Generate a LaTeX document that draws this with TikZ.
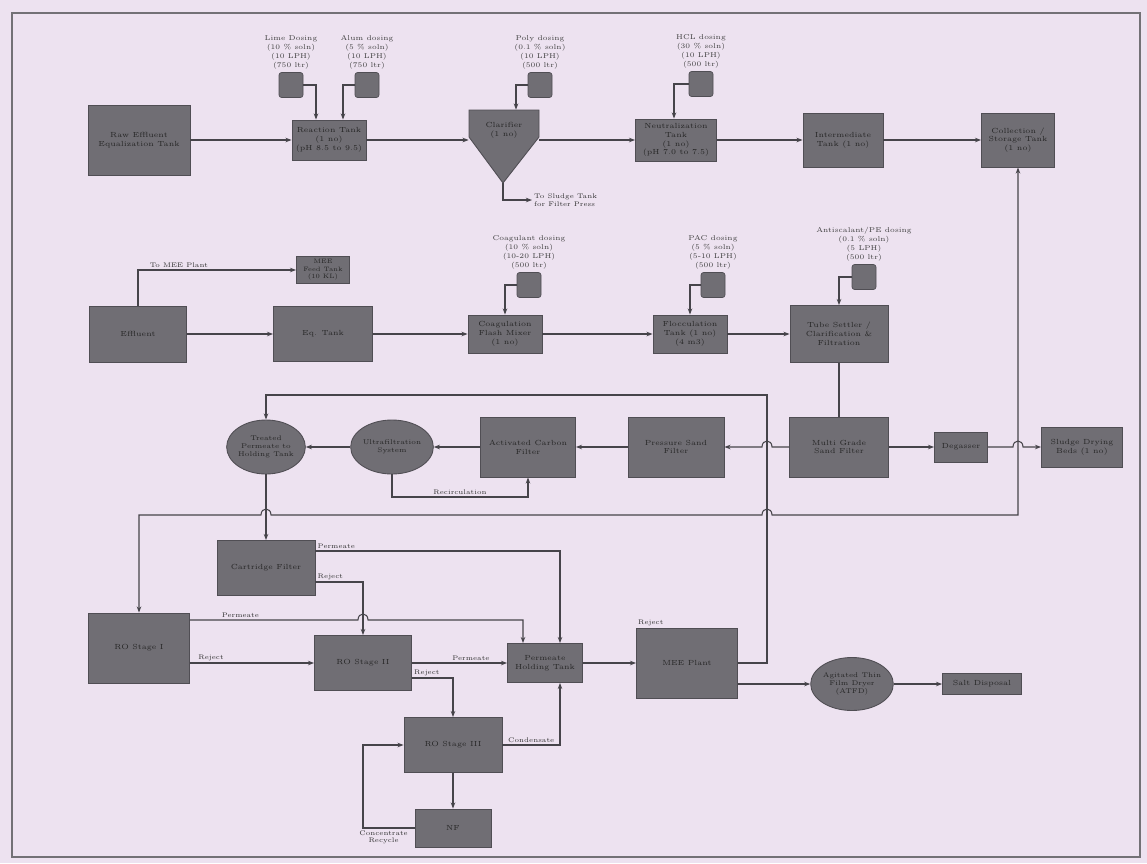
\documentclass[tikz,border=0pt]{standalone}
\usepackage{tikz}
\usetikzlibrary{shapes.geometric, arrows.meta, positioning, calc}

\definecolor{paper}{RGB}{237,226,240}
\definecolor{unitgray}{RGB}{112,110,116}
\definecolor{edgegray}{RGB}{80,78,84}
\definecolor{pipegray}{RGB}{70,68,74}

\begin{document}
\begin{tikzpicture}[
    x=0.02cm, y=-0.02cm,
    wh/.style 2 args={minimum width=#1*0.02cm, minimum height=#2*0.02cm},
    unitfont/.style={font=\fontsize{4.2}{5}\selectfont, text=black!85},
    unit/.style={draw=edgegray, fill=unitgray, line width=0.5pt, align=center, inner sep=1pt, unitfont},
    tank/.style={unit, ellipse, inner sep=0pt, font=\fontsize{3.9}{4.7}\selectfont},
    hopper/.style={draw=edgegray, fill=unitgray, line width=0.5pt},
    drum/.style={draw=edgegray, fill=unitgray, rounded corners=1.5pt, wh={24}{25}, inner sep=0pt},
    dosetext/.style={align=center, font=\fontsize{4}{5.2}\selectfont, text=black!75, inner sep=0.5pt},
    flowtext/.style={font=\fontsize{3.8}{4.4}\selectfont, text=black!80, inner sep=1pt},
    pipe/.style={draw=pipegray, line width=0.6pt},
    arrow/.style={pipe, -{Stealth[length=3.5pt, width=2.6pt]}},
    twoway/.style={pipe, {Stealth[length=3.5pt, width=2.6pt]}-{Stealth[length=3.5pt, width=2.6pt]}}
]

\fill[paper] (0,0) rectangle (1147,863);
\useasboundingbox (0,0) rectangle (1147,863);
\draw[edgegray!80, line width=0.6pt] (12,13) rectangle (1140,857);

% primary treatment line
\node[unit, wh={102}{70}] (eqt) at (139,140) {Raw Effluent\\Equalization Tank};
\node[unit, wh={74}{40}] (rxn) at (329,140) {Reaction Tank\\(1 no)\\(pH 8.5 to 9.5)};
\node[drum] (lime) at (291,85) {};
\node[drum] (alum) at (367,85) {};
\node[dosetext, above=1pt of lime] {Lime Dosing\\(10 \% soln)\\(10 LPH)\\(750 ltr)};
\node[dosetext, above=1pt of alum] {Alum dosing\\(5 \% soln)\\(10 LPH)\\(750 ltr)};

\filldraw[hopper] (469,110) -- (539,110) -- (539,137) -- (503,183) -- (469,137) -- cycle;
\node[inner sep=0pt, wh={70}{40}, align=center, unitfont] (clar) at (504,130) {Clarifier\\(1 no)};
\coordinate (clarapex) at (503,183);
\coordinate (sludge) at (532,200);
\node[drum] (poly) at (540,85) {};
\node[dosetext, above=1pt of poly] {Poly dosing\\(0.1 \% soln)\\(10 LPH)\\(500 ltr)};

\node[unit, wh={81}{42}] (neut) at (676,140) {Neutralization\\Tank\\(1 no)\\(pH 7.0 to 7.5)};
\node[drum] (hcl) at (701,84) {};
\node[dosetext, above=1pt of hcl] {HCL dosing\\(30 \% soln)\\(10 LPH)\\(500 ltr)};
\node[unit, wh={80}{54}] (inter) at (843,140) {Intermediate\\Tank (1 no)};
\node[unit, wh={73}{54}] (coll) at (1018,140) {Collection /\\Storage Tank\\(1 no)};

\draw[arrow] (eqt) -- (rxn);
\draw[arrow] (rxn) -- (rxn -| clar.west);
\draw[arrow] (clar.east |- neut) -- (neut);
\draw[arrow] (neut) -- (inter);
\draw[arrow] (inter) -- (coll);
\draw[arrow] (lime.east) -| ($(rxn.north)+(-13,0)$);
\draw[arrow] (alum.west) -| ($(rxn.north)+(14,0)$);
\draw[arrow] (poly.west) -| ($(clar.north)+(12,0)$);
\draw[arrow] (hcl.west) -| ($(neut.north)+(-2,0)$);
\draw[arrow] (clarapex) |- (sludge);
\node[flowtext, right, align=left] at (sludge) {To Sludge Tank\\for Filter Press};

% tertiary line
\node[unit, wh={97}{56}] (raw) at (138,334) {Effluent};
\node[unit, wh={53}{27}, font=\fontsize{3.6}{4.2}\selectfont] (meefeed) at (323,270) {MEE\\Feed Tank\\(10 KL)};
\node[unit, wh={99}{55}] (eqtwo) at (323,334) {Eq. Tank};
\node[unit, wh={74}{38}] (coag) at (505,334) {Coagulation\\Flash Mixer\\(1 no)};
\node[drum] (coagdrum) at (529,285) {};
\node[dosetext, above=1pt of coagdrum] {Coagulant dosing\\(10 \% soln)\\(10-20 LPH)\\(500 ltr)};
\node[unit, wh={74}{38}] (floc) at (690,334) {Flocculation\\Tank (1 no)\\(4 m3)};
\node[drum] (pacdrum) at (713,285) {};
\node[dosetext, above=1pt of pacdrum] {PAC dosing\\(5 \% soln)\\(5-10 LPH)\\(500 ltr)};
\node[unit, wh={98}{57}] (tube) at (839,334) {Tube Settler /\\Clarification \&\\Filtration};
\node[drum] (antidrum) at (864,277) {};
\node[dosetext, above=1pt of antidrum] {Antiscalant/PE dosing\\(0.1 \% soln)\\(5 LPH)\\(500 ltr)};

\draw[arrow] (raw.north) |- node[flowtext, pos=0.53, anchor=south west] {To MEE Plant} (meefeed.west);
\draw[arrow] (raw) -- (eqtwo);
\draw[arrow] (eqtwo) -- (coag);
\draw[arrow] (coag) -- (floc);
\draw[arrow] (floc) -- (tube);
\draw[arrow] (coagdrum.west) -| (coag.north);
\draw[arrow] (pacdrum.west) -| (floc.north);
\draw[arrow] (antidrum.west) -| (tube.north);

% filtration line
\node[unit, wh={99}{60}] (mgf) at (839,447) {Multi Grade\\Sand Filter};
\node[unit, wh={96}{60}] (psf) at (676,447) {Pressure Sand\\Filter};
\node[unit, wh={95}{60}] (acf) at (528,447) {Activated Carbon\\Filter};
\node[tank, wh={75}{54}] (uf) at (392,447) {Ultrafiltration\\System};
\node[tank, wh={78}{54}] (hold) at (266,447) {Treated\\Permeate to\\Holding Tank};
\node[unit, wh={53}{30}] (degas) at (961,447) {Degasser};
\node[unit, wh={81}{40}] (sdb) at (1082,447) {Sludge Drying\\Beds (1 no)};
\coordinate (recy) at (528,497);

\draw[pipe] (tube) -- (mgf);
\draw[arrow] (mgf.west) -- (772,447) .. controls (772,439) and (762,439) .. (762,447) -- (psf.east);
\draw[arrow] (psf) -- (acf);
\draw[arrow] (acf) -- (uf);
\draw[arrow] (uf) -- (hold);
\draw[arrow] (uf.south) |- node[flowtext, pos=0.75, above] {Recirculation} (recy) -- (acf.south);
\draw[arrow] (mgf) -- (degas);
\draw[arrow] (degas.east) -- (1013,447) .. controls (1013,439) and (1023,439) .. (1023,447) -- (sdb.west);

% membrane and evaporation line
\node[unit, wh={98}{55}] (cf) at (266,568) {Cartridge Filter};
\node[unit, wh={101}{70}] (ro1) at (139,648) {RO Stage I};
\node[unit, wh={97}{55}] (ro2) at (363,663) {RO Stage II};
\node[unit, wh={75}{39}] (permtank) at (545,663) {Permeate\\Holding Tank};
\node[unit, wh={101}{70}] (mee) at (687,663) {MEE Plant};
\node[flowtext, anchor=south west] at (mee.north west) {Reject};
\node[tank, wh={79}{53}] (atfd) at (852,684) {Agitated Thin\\Film Dryer\\(ATFD)};
\node[unit, wh={79}{21}] (saltout) at (982,684) {Salt Disposal};
\node[unit, wh={98}{55}] (ro3) at (453,745) {RO Stage III};
\node[unit, wh={76}{38}] (nf) at (453,828) {NF};
\coordinate (cnd) at (767,395);
\coordinate (ringL) at (139,515);
\coordinate (recyc) at (363,828);

\draw[twoway] (coll.south) -- (1018,515) -- (772,515) .. controls (772,507) and (762,507) .. (762,515)
    -- (271,515) .. controls (271,507) and (261,507) .. (261,515) -- (ringL) -- (ro1.north);
\draw[arrow] (mee.east) -| (cnd) -| (hold.north);
\draw[arrow] (hold.south) -- (cf.north);
\draw[arrow] ($(cf.east)+(0,-17)$) node[flowtext, above right] {Permeate} -| ($(permtank.north)+(15,0)$);
\draw[arrow] ($(cf.east)+(0,14)$) node[flowtext, above right] {Reject} -| (ro2.north);
\draw[arrow] ($(ro1.east)+(0,-28)$) -- node[flowtext, above, pos=0.3] {Permeate} (358,620)
    .. controls (358,612) and (368,612) .. (368,620) -| ($(permtank.north)+(-22,0)$);
\draw[arrow] (ro1.east |- ro2.west) -- node[flowtext, above, pos=0.17] {Reject} (ro2.west);
\draw[arrow] (ro2) -- node[flowtext, above, pos=0.62] {Permeate} (permtank);
\draw[arrow] ($(ro2.east)+(0,15)$) node[flowtext, above right] {Reject} -| (ro3.north);
\draw[arrow] (permtank) -- (mee);
\draw[arrow] (mee.east |- atfd.west) -- (atfd.west);
\draw[arrow] (atfd) -- (saltout);
\draw[arrow] (ro3) -- (nf);
\draw[arrow] (nf.west) -- node[flowtext, below, align=center, pos=0.6] {Concentrate\\Recycle} (recyc) |- (ro3.west);
\draw[arrow] (ro3.east) -| node[flowtext, above, pos=0.25] {Condensate} ($(permtank.south)+(15,0)$);

\end{tikzpicture}
\end{document}
